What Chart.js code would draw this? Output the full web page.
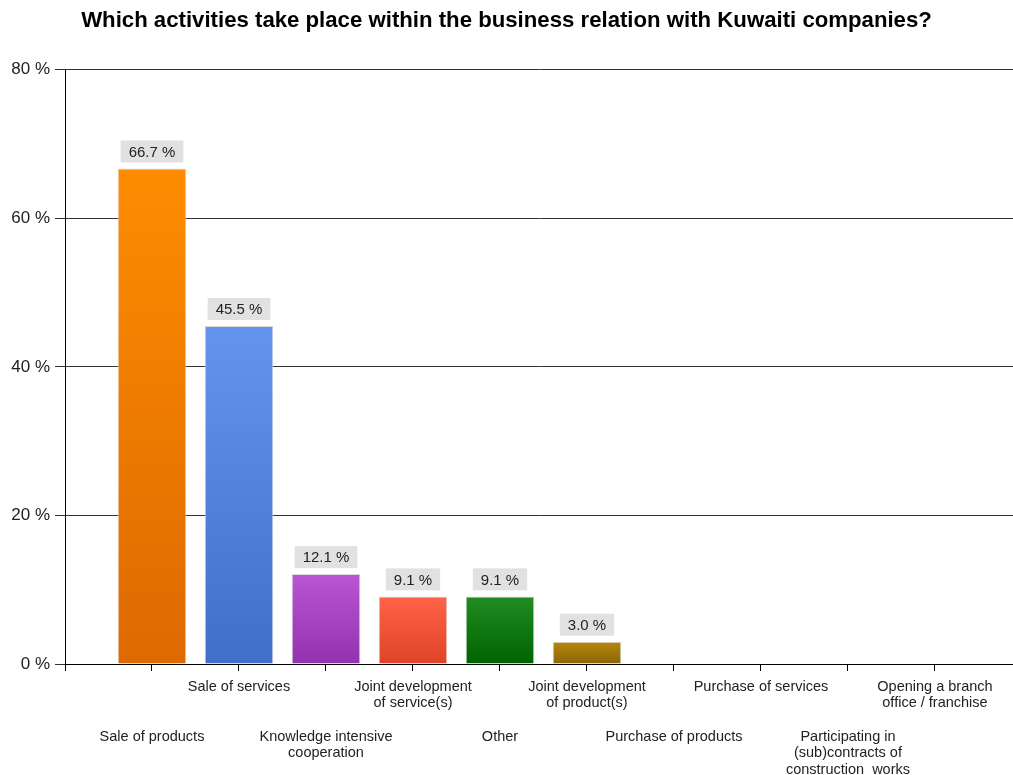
<!DOCTYPE html>
<html>
<head>
<meta charset="utf-8">
<script src="https://cdn.jsdelivr.net/npm/chart.js@4"></script>
<style>
  body { margin: 0; background: #fff; }
  #wrap { width: 1013px; height: 775px; }
</style>
</head>
<body>
<div id="wrap"><canvas id="myChart" width="1013" height="775"></canvas></div>
<script>
// activities and share of companies (in %)
var categories = [
    ['Sale of products'],
    ['Sale of services'],
    ['Knowledge intensive', 'cooperation'],
    ['Joint development', 'of service(s)'],
    ['Other'],
    ['Joint development', 'of product(s)'],
    ['Purchase of products'],
    ['Purchase of services'],
    ['Participating in', '(sub)contracts of', 'construction  works'],
    ['Opening a branch', 'office / franchise']
]
var values = [66.7, 45.5, 12.1, 9.1, 9.1, 3.0, 0, 0, 0, 0]
var yTicks = [0, 20, 40, 60, 80]

var topColors = ['#ff8c00', '#6495ed', '#ba55d3', '#ff6347', '#228b22', '#b8860b', '#999', '#999', '#999', '#999']
var bottomColors = ['#dc6a00', '#3f6fc6', '#9232ae', '#de4428', '#006400', '#8b6508', '#777', '#777', '#777', '#777']

// labels alternate between an upper and a lower row
function tickLabel(i) {
    if (i < 0 || i >= categories.length) return ''
    if (i % 2 == 0) return ['', '', ''].concat(categories[i])
    return categories[i]
}

// gray value boxes above the bars
const valueBoxes = {
    id: 'valueBoxes',
    afterDatasetsDraw(chart) {
        const ctx = chart.ctx
        const meta = chart.getDatasetMeta(0)
        ctx.save()
        ctx.font = '15px "Liberation Sans", Arial, sans-serif'
        ctx.textAlign = 'center'
        ctx.textBaseline = 'middle'
        meta.data.forEach((bar, i) => {
            if (!(values[i] > 0)) return
            var text = values[i].toFixed(1) + ' %'
            var w = ctx.measureText(text).width + 16
            var h = 22
            var bottom = bar.y - 6
            ctx.fillStyle = '#e1e1e1'
            ctx.fillRect(bar.x - w / 2, bottom - h, w, h)
            ctx.fillStyle = '#222'
            ctx.fillText(text, bar.x, bottom - h / 2 + 1)
        })
        ctx.restore()
    }
}

const ctx = document.getElementById('myChart')
new Chart(ctx, {
    type: 'bar',
    data: {
        datasets: [{
            data: values.map((v, i) => ({ x: i, y: v })),
            backgroundColor: (c) => {
                const chart = c.chart
                if (!chart.chartArea || c.raw === undefined) return topColors[c.dataIndex]
                const y = chart.scales.y
                const g = chart.ctx.createLinearGradient(0, y.getPixelForValue(c.raw.y), 0, y.getPixelForValue(0))
                g.addColorStop(0, topColors[c.dataIndex])
                g.addColorStop(1, bottomColors[c.dataIndex])
                return g
            },
            borderColor: '#dcdcdc',
            borderWidth: (c) => (c.raw && c.raw.y > 0 ? 1 : 0),
            barPercentage: 0.79,
            categoryPercentage: 1
        }]
    },
    options: {
        responsive: false,
        animation: false,
        layout: { padding: { left: 0, right: 0, bottom: 0 } },
        plugins: {
            legend: { display: false },
            tooltip: { enabled: false },
            title: {
                display: true,
                text: 'Which activities take place within the business relation with Kuwaiti companies?',
                color: '#000',
                font: { family: '"Liberation Sans", Arial, sans-serif', size: 22.2, weight: 'bold' },
                padding: { top: 8, bottom: 35 }
            }
        },
        scales: {
            x: {
                type: 'linear',
                offset: false,
                min: -1,
                max: 9.897,
                afterBuildTicks: (scale) => {
                    scale.ticks = [-1, 0, 1, 2, 3, 4, 5, 6, 7, 8, 9].map(v => ({ value: v }))
                },
                afterFit: (scale) => { scale.height = 111 },
                grid: { offset: false, drawOnChartArea: false, drawTicks: true, tickLength: 7, color: '#000' },
                border: { display: true, color: '#000', width: 1 },
                ticks: {
                    autoSkip: false,
                    maxRotation: 0,
                    padding: 8,
                    color: '#222',
                    // the lower row (tick index 1, 3, ...) uses a slightly taller line
                    font: (c) => ({
                        family: '"Liberation Sans", Arial, sans-serif',
                        size: 14.5,
                        lineHeight: (c.index % 2 == 1) ? '16.5px' : '16px'
                    }),
                    callback: (v) => tickLabel(v)
                }
            },
            y: {
                min: 0,
                max: 80,
                afterBuildTicks: (scale) => {
                    scale.ticks = yTicks.map(v => ({ value: v }))
                },
                afterFit: (scale) => { scale.width = 65 },
                grid: { color: '#333', tickLength: 10 },
                border: { display: true, color: '#000', width: 1 },
                ticks: {
                    padding: 5,
                    color: '#222',
                    font: { family: '"Liberation Sans", Arial, sans-serif', size: 17 },
                    callback: (v) => v + ' %'
                }
            }
        }
    },
    plugins: [valueBoxes]
})
</script>
</body>
</html>
